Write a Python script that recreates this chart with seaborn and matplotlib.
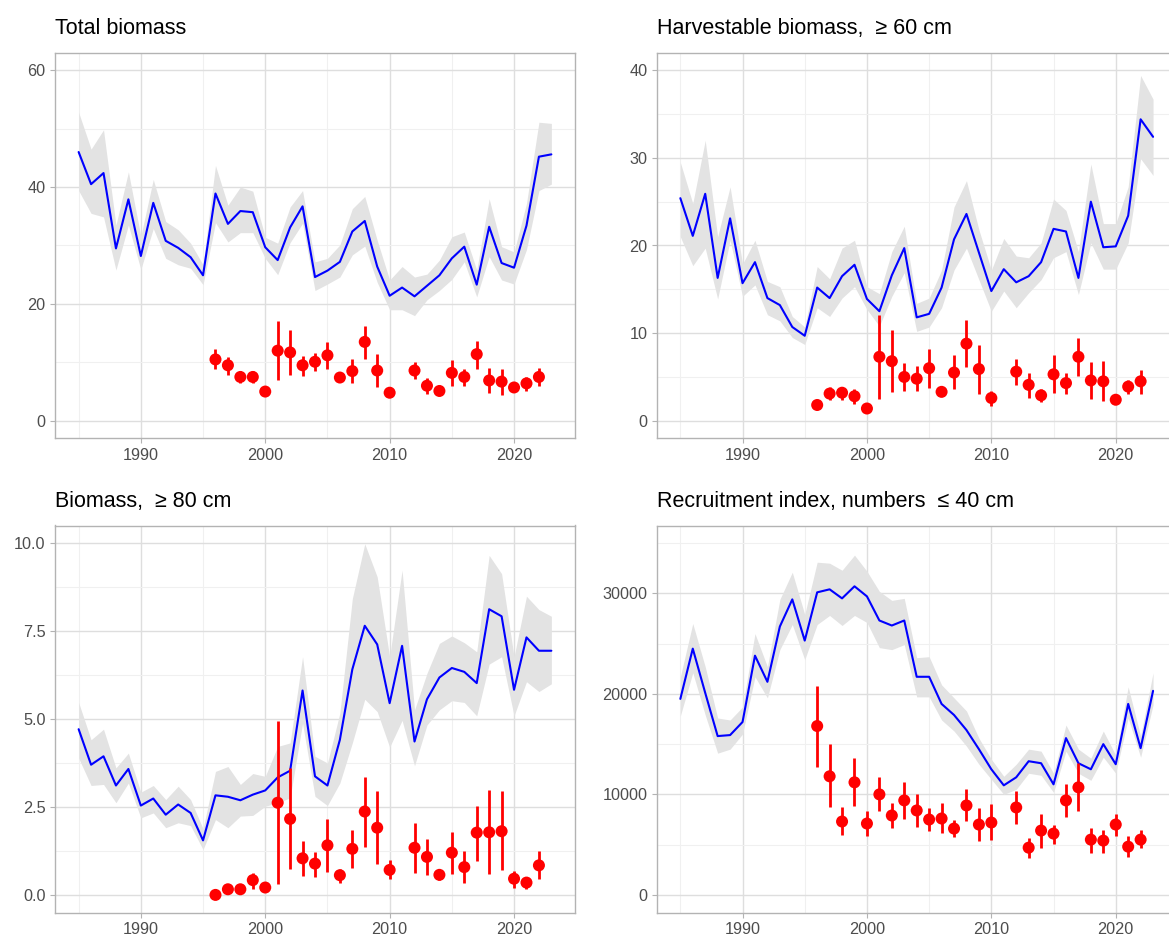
import matplotlib
matplotlib.use("Agg")
import matplotlib.pyplot as plt
import seaborn as sns
import numpy as np

# years of the model estimate and of the survey points (no survey in 2011)
years = list(range(1985, 2024))
pt_years = list(range(1996, 2011)) + list(range(2012, 2023))

## Total biomass
tot_est = [46.0, 40.5, 42.4, 29.5, 37.9, 28.2, 37.3, 30.8, 29.6, 28.0, 24.9, 38.9, 33.7, 35.9, 35.7, 29.7,
           27.5, 33.1, 36.7, 24.6, 25.7, 27.2, 32.4, 34.2, 26.4, 21.4, 22.8, 21.3, 23.1, 24.9, 27.8, 29.8,
           23.3, 33.2, 27.0, 26.2, 33.4, 45.2, 45.6]
tot_lo = [39.4, 35.5, 34.9, 25.8, 33.5, 25.9, 32.9, 27.8, 26.7, 26.1, 23.3, 33.9, 30.6, 32.2, 32.2, 27.8,
          25.0, 30.5, 33.8, 22.3, 23.4, 24.6, 28.4, 29.9, 23.7, 19.0, 19.0, 18.0, 20.7, 22.3, 24.2, 27.2,
          21.2, 28.1, 24.1, 23.4, 29.3, 39.4, 40.5]
tot_hi = [52.8, 46.5, 49.8, 33.5, 42.6, 31.6, 41.3, 34.1, 32.7, 30.4, 26.7, 43.7, 36.9, 40.0, 39.3, 31.4,
          30.4, 36.6, 39.4, 27.2, 27.8, 30.1, 36.3, 38.4, 30.9, 24.1, 26.4, 24.6, 25.1, 27.5, 31.5, 32.3,
          25.8, 38.0, 29.8, 28.9, 37.2, 51.1, 50.9]
tot_obs = [10.5, 9.5, 7.5, 7.5, 5.0, 12.0, 11.7, 9.5, 10.1, 11.2, 7.4, 8.5, 13.5, 8.6, 4.8, 8.6, 6.0,
           5.1, 8.2, 7.5, 11.4, 6.9, 6.7, 5.7, 6.4, 7.5]
tot_obs_lo = [8.8, 7.9, 6.4, 6.4, 4.3, 7.0, 7.9, 7.7, 8.5, 8.8, 6.6, 6.5, 10.5, 5.7, 4.0, 7.1, 4.5,
              4.5, 6.0, 6.0, 8.9, 4.7, 4.4, 5.1, 5.1, 6.0]
tot_obs_hi = [12.2, 11.0, 8.5, 8.6, 5.7, 17.0, 15.5, 11.1, 11.6, 13.5, 7.9, 10.5, 16.3, 11.5, 5.7, 10.0,
              7.4, 5.8, 10.4, 8.9, 13.6, 9.1, 8.9, 6.2, 7.5, 9.1]

## Harvestable biomass >= 60 cm
hb_est = [25.4, 21.1, 25.9, 16.3, 23.1, 15.7, 18.1, 14.0, 13.2, 10.7, 9.7, 15.2, 14.0, 16.5, 17.8, 13.9,
          12.5, 16.6, 19.7, 11.8, 12.2, 15.2, 20.7, 23.6, 19.2, 14.8, 17.3, 15.8, 16.5, 18.1, 21.9, 21.6,
          16.3, 25.0, 19.8, 19.9, 23.4, 34.4, 32.4]
hb_lo = [21.0, 17.7, 19.7, 13.9, 20.6, 14.2, 15.5, 12.1, 11.4, 9.5, 8.7, 12.9, 11.9, 14.0, 15.3, 12.7,
         10.8, 14.2, 16.9, 10.2, 10.7, 12.9, 17.2, 19.7, 16.1, 12.5, 14.8, 12.9, 14.6, 16.1, 18.6, 19.3,
         14.4, 20.3, 17.3, 17.3, 20.3, 29.9, 28.0]
hb_hi = [29.5, 24.8, 32.0, 21.0, 26.7, 17.9, 20.6, 15.9, 15.3, 11.9, 10.7, 17.6, 16.2, 19.7, 20.6, 15.3,
         14.5, 19.3, 22.2, 13.4, 14.0, 17.2, 24.4, 27.4, 21.8, 17.2, 20.8, 18.8, 18.6, 20.3, 25.3, 24.0,
         19.3, 29.3, 22.5, 22.5, 26.7, 39.4, 36.7]
hb_obs = [1.8, 3.1, 3.2, 2.8, 1.4, 7.3, 6.8, 5.0, 4.8, 6.0, 3.3, 5.5, 8.8, 5.9, 2.6, 5.6, 4.1, 2.9, 5.3,
          4.3, 7.3, 4.6, 4.5, 2.4, 3.9, 4.5]
hb_obs_lo = [1.4, 2.4, 2.4, 1.9, 1.1, 2.5, 3.3, 3.4, 3.4, 3.7, 2.8, 3.6, 6.1, 3.1, 1.7, 4.1, 2.6, 2.1,
             3.2, 3.0, 5.1, 2.5, 2.2, 1.9, 3.0, 3.1]
hb_obs_hi = [2.1, 3.8, 3.9, 3.6, 1.7, 12.1, 10.4, 6.6, 6.3, 8.2, 3.7, 7.5, 11.5, 8.7, 3.4, 7.1, 5.5, 3.6,
             7.5, 5.5, 9.4, 6.7, 6.8, 2.9, 4.7, 5.8]

## Biomass >= 80 cm
b80_est = [4.71, 3.70, 3.94, 3.11, 3.58, 2.54, 2.74, 2.28, 2.57, 2.33, 1.55, 2.83, 2.79, 2.69, 2.85, 2.97,
           3.34, 3.53, 5.81, 3.37, 3.11, 4.41, 6.41, 7.65, 7.12, 5.45, 7.08, 4.36, 5.56, 6.18, 6.45, 6.34,
           6.02, 8.12, 7.92, 5.83, 7.32, 6.94, 6.94]
b80_lo = [3.89, 3.11, 3.14, 2.62, 3.18, 2.19, 2.33, 1.91, 2.05, 1.97, 1.29, 2.14, 1.91, 2.24, 2.26, 2.52,
          2.62, 2.76, 4.88, 2.80, 2.54, 3.18, 4.32, 5.56, 5.21, 4.20, 4.96, 3.67, 4.83, 5.26, 5.52, 5.47,
          5.09, 6.56, 6.77, 5.09, 6.06, 5.78, 6.00]
b80_hi = [5.47, 4.41, 4.71, 3.61, 4.03, 2.92, 3.11, 2.71, 3.09, 2.71, 1.88, 3.51, 3.65, 3.14, 3.45, 3.37,
          4.22, 4.32, 6.77, 3.94, 3.75, 5.17, 8.42, 9.98, 9.04, 6.77, 9.23, 5.26, 6.30, 7.15, 7.36, 7.17,
          6.91, 9.65, 9.13, 6.77, 8.49, 8.11, 7.92]
b80_obs = [0.0, 0.16, 0.16, 0.42, 0.21, 2.62, 2.16, 1.04, 0.89, 1.41, 0.56, 1.31, 2.37, 1.91, 0.71, 1.34,
           1.08, 0.57, 1.20, 0.79, 1.77, 1.78, 1.81, 0.46, 0.35, 0.84]
b80_obs_lo = [0.0, 0.07, 0.07, 0.18, 0.11, 0.30, 0.73, 0.54, 0.51, 0.65, 0.35, 0.76, 1.37, 0.87, 0.44,
              0.63, 0.56, 0.42, 0.60, 0.33, 0.96, 0.60, 0.70, 0.21, 0.18, 0.44]
b80_obs_hi = [0.02, 0.25, 0.25, 0.63, 0.30, 4.93, 3.61, 1.53, 1.23, 2.16, 0.75, 1.84, 3.35, 2.95, 0.98,
              2.05, 1.58, 0.73, 1.78, 1.25, 2.54, 2.97, 2.95, 0.68, 0.49, 1.25]

## Recruitment index, numbers <= 40 cm
rec_est = [19500, 24500, 20100, 15800, 15900, 17200, 23800, 21200, 26700, 29400, 25300, 30100, 30400,
           29500, 30700, 29700, 27300, 26800, 27300, 21700, 21700, 19000, 17900, 16400, 14500, 12500,
           10900, 11700, 13300, 13100, 11000, 15600, 13100, 12500, 15000, 13000, 19000, 14600, 20300]
rec_lo = [17800, 22100, 17900, 14100, 14500, 16000, 21700, 19600, 24400, 26900, 23400, 26900, 27800,
          26800, 27800, 27100, 24600, 24400, 24900, 19700, 19700, 17400, 16300, 14800, 13000, 11500,
          10000, 10500, 12100, 11900, 10200, 14300, 12100, 11400, 13700, 12100, 17600, 13700, 18900]
rec_hi = [21700, 27000, 22700, 17600, 17400, 18700, 26000, 22700, 29400, 32100, 27900, 33100, 33000,
          32300, 33800, 32200, 30200, 29300, 29500, 23600, 23700, 20900, 19600, 18300, 15600, 13500,
          11800, 13000, 14500, 14300, 12100, 16900, 14500, 13600, 16300, 13900, 20700, 15800, 22100]
rec_obs = [16800, 11800, 7300, 11200, 7100, 10000, 7900, 9400, 8400, 7500, 7600, 6600, 8900, 7000, 7200,
           8700, 4700, 6400, 6100, 9400, 10700, 5500, 5400, 7000, 4800, 5500]
rec_obs_lo = [12700, 8700, 6000, 8800, 5900, 8300, 6700, 7600, 6800, 6400, 6200, 5800, 7400, 5400, 5500,
              7100, 3700, 4700, 5100, 7800, 8300, 4200, 4200, 5900, 3800, 4700]
rec_obs_hi = [20800, 15000, 8700, 13600, 8300, 11700, 9100, 11200, 10000, 8600, 9100, 7500, 10500, 8600,
              9000, 10300, 5700, 8000, 7000, 11000, 13100, 6700, 6500, 8000, 5900, 6500]

titles = ["Total biomass", "Harvestable biomass,  \u2265 60 cm",
          "Biomass,  \u2265 80 cm", "Recruitment index, numbers  \u2264 40 cm"]

sns.set_theme(style="white")
plt.rcParams['font.family'] = ['Liberation Sans', 'DejaVu Sans']

fig = plt.figure(figsize=(11.69, 9.39), dpi=100)
W, H = 1169, 939
# panel boxes in pixels: left, top, right, bottom
boxes = [(55, 52.7, 575, 438.3), (656.7, 52.7, 1176.7, 438.3),
         (55, 525.5, 575, 912.5), (656.7, 525.5, 1176.7, 912.5)]

panels = [
    (tot_est, tot_lo, tot_hi, tot_obs, tot_obs_lo, tot_obs_hi, (-3, 63), [0, 20, 40, 60], ["0", "20", "40", "60"], [10, 30, 50]),
    (hb_est, hb_lo, hb_hi, hb_obs, hb_obs_lo, hb_obs_hi, (-2, 42), [0, 10, 20, 30, 40], ["0", "10", "20", "30", "40"], [5, 15, 25, 35]),
    (b80_est, b80_lo, b80_hi, b80_obs, b80_obs_lo, b80_obs_hi, (-0.5, 10.5), [0, 2.5, 5, 7.5, 10],
     ["0.0", "2.5", "5.0", "7.5", "10.0"], [1.25, 3.75, 6.25, 8.75]),
    (rec_est, rec_lo, rec_hi, rec_obs, rec_obs_lo, rec_obs_hi, (-1750, 36750), [0, 10000, 20000, 30000],
     ["0", "10000", "20000", "30000"], [5000, 15000, 25000, 35000]),
]

for i, (est, lo, hi, obs, obs_lo, obs_hi, ylim, yt, ytl, yminor) in enumerate(panels):
    l, t, r, b = boxes[i]
    ax = fig.add_axes([l / W, 1 - b / H, (r - l) / W, (b - t) / H])

    ax.fill_between(years, lo, hi, color="#E3E3E3", linewidth=0, zorder=2)
    sns.lineplot(x=years, y=est, color="#0000FF", linewidth=1.5, ax=ax, zorder=3)
    ax.vlines(pt_years, obs_lo, obs_hi, color="#FF0000", linewidth=2.0, zorder=4)
    sns.scatterplot(x=pt_years, y=obs, color="#FF0000", s=75, edgecolor="none", ax=ax, zorder=5)

    ax.set_xlim(1983.1, 2024.9)
    ax.set_ylim(*ylim)
    ax.set_xticks([1990, 2000, 2010, 2020])
    ax.set_xticks([1985, 1995, 2005, 2015], minor=True)
    ax.set_yticks(yt)
    ax.set_yticklabels(ytl)
    ax.set_yticks(yminor, minor=True)

    ax.grid(which="major", color="#DEDEDE", linewidth=1.0, zorder=0)
    ax.grid(which="minor", color="#F0F0F0", linewidth=0.8, zorder=0)
    ax.set_axisbelow(True)
    for sp in ax.spines.values():
        sp.set_color("#B3B3B3")
        sp.set_linewidth(1.0)
    ax.tick_params(which="major", length=3.7, width=0.8, color="#B3B3B3", pad=3,
                   labelsize=11.7, labelcolor="#4D4D4D", bottom=True, left=True)
    ax.tick_params(which="minor", length=0, bottom=False, left=False)

    ax.set_xlabel("")
    ax.set_ylabel("")
    ax.set_title(titles[i], loc="left", fontsize=15.5, color="black", pad=13.5)

fig.savefig("out.png", dpi=100)
